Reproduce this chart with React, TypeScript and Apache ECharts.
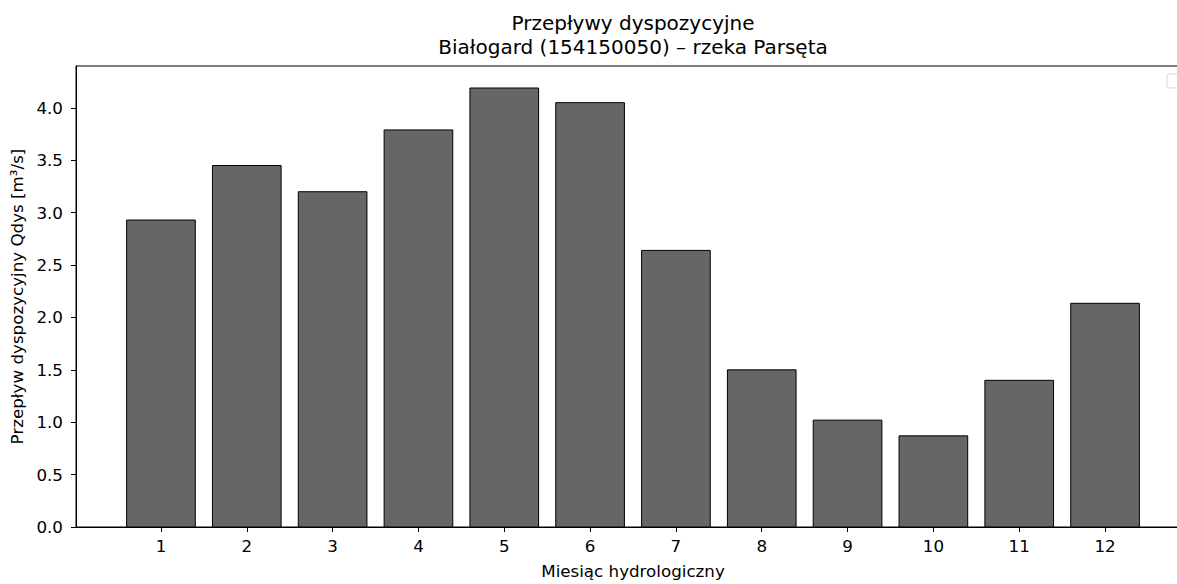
import React, { useEffect, useRef } from "react";
import * as echarts from "echarts";

const months = [1, 2, 3, 4, 5, 6, 7, 8, 9, 10, 11, 12];
const flows = [2.93, 3.45, 3.2, 3.79, 4.19, 4.05, 2.64, 1.5, 1.02, 0.87, 1.4, 2.135];
const yTicks = [0, 0.5, 1, 1.5, 2, 2.5, 3, 3.5, 4];

const titleText = "Przepływy dyspozycyjne\nBiałogard (154150050) – rzeka Parsęta";
const xName = "Miesiąc hydrologiczny";
const yName = "Przepływ dyspozycyjny Qdys [m³/s]";

export default function App() {
  const ref = useRef<HTMLDivElement>(null);
  useEffect(() => {
    if (!ref.current) return;
    const chart = echarts.init(ref.current, null, { renderer: "svg" });
    const font = "DejaVu Sans";
    const fs = 16.7;
    chart.setOption({
      animation: false,
      backgroundColor: "#ffffff",
      textStyle: { fontFamily: font },
      title: {
        text: titleText,
        left: 633,
        top: 11,
        padding: 0,
        textAlign: "center",
        textStyle: { fontFamily: font, fontSize: 20, fontWeight: "normal", color: "#000", lineHeight: 24 },
      },
      grid: { left: 76, top: 66, width: 1114, height: 465, show: true, borderColor: "#000", borderWidth: 1, backgroundColor: "transparent" },
      xAxis: {
        type: "value",
        min: 0.01,
        max: 12.99,
        name: xName,
        nameLocation: "middle",
        nameGap: 35,
        nameTextStyle: { fontFamily: font, fontSize: fs, color: "#000" },
        axisLine: { show: true, onZero: false, lineStyle: { color: "#000", width: 1 } },
        axisTick: { show: true, inside: false, length: 5, lineStyle: { color: "#000" }, customValues: months },
        axisLabel: { show: true, margin: 10, fontFamily: font, fontSize: fs, color: "#000", customValues: months, formatter: (v: number) => String(v) },
        splitLine: { show: false },
      },
      yAxis: {
        type: "value",
        min: 0,
        max: 4.4,
        name: yName,
        nameLocation: "middle",
        nameGap: 47,
        nameTextStyle: { fontFamily: font, fontSize: fs, color: "#000" },
        axisLine: { show: true, lineStyle: { color: "#000", width: 1 } },
        axisTick: { show: true, inside: false, length: 5, lineStyle: { color: "#000" }, customValues: yTicks },
        axisLabel: { show: true, margin: 13, fontFamily: font, fontSize: fs, color: "#000", customValues: yTicks, formatter: (v: number) => v.toFixed(1) },
        splitLine: { show: false },
      },
      graphic: [
        {
          type: "rect",
          shape: { x: 1167, y: 74, width: 24, height: 14, r: 3 },
          style: { fill: "#ffffff", stroke: "#d6d6d6", lineWidth: 1 },
          z: 100,
        },
      ],
      series: [
        {
          type: "custom",
          encode: { x: 0, y: 1 },
          data: months.map((m, i) => [m, flows[i]]),
          renderItem: (params: any, api: any) => {
            const x = api.value(0);
            const y = api.value(1);
            const p0 = api.coord([x - 0.4, y]);
            const p1 = api.coord([x + 0.4, 0]);
            return {
              type: "rect",
              shape: { x: p0[0], y: p0[1], width: p1[0] - p0[0], height: p1[1] - p0[1] },
              style: { fill: "#666666", stroke: "#000000", lineWidth: 1 },
            };
          },
        },
      ],
    });
    return () => chart.dispose();
  }, []);
  return (
    <div style={{ position: "absolute", left: 0, top: 0, width: 1177, height: 584, overflow: "hidden", background: "#fff" }}>
      <div ref={ref} style={{ width: 1200, height: 584 }} />
    </div>
  );
}
